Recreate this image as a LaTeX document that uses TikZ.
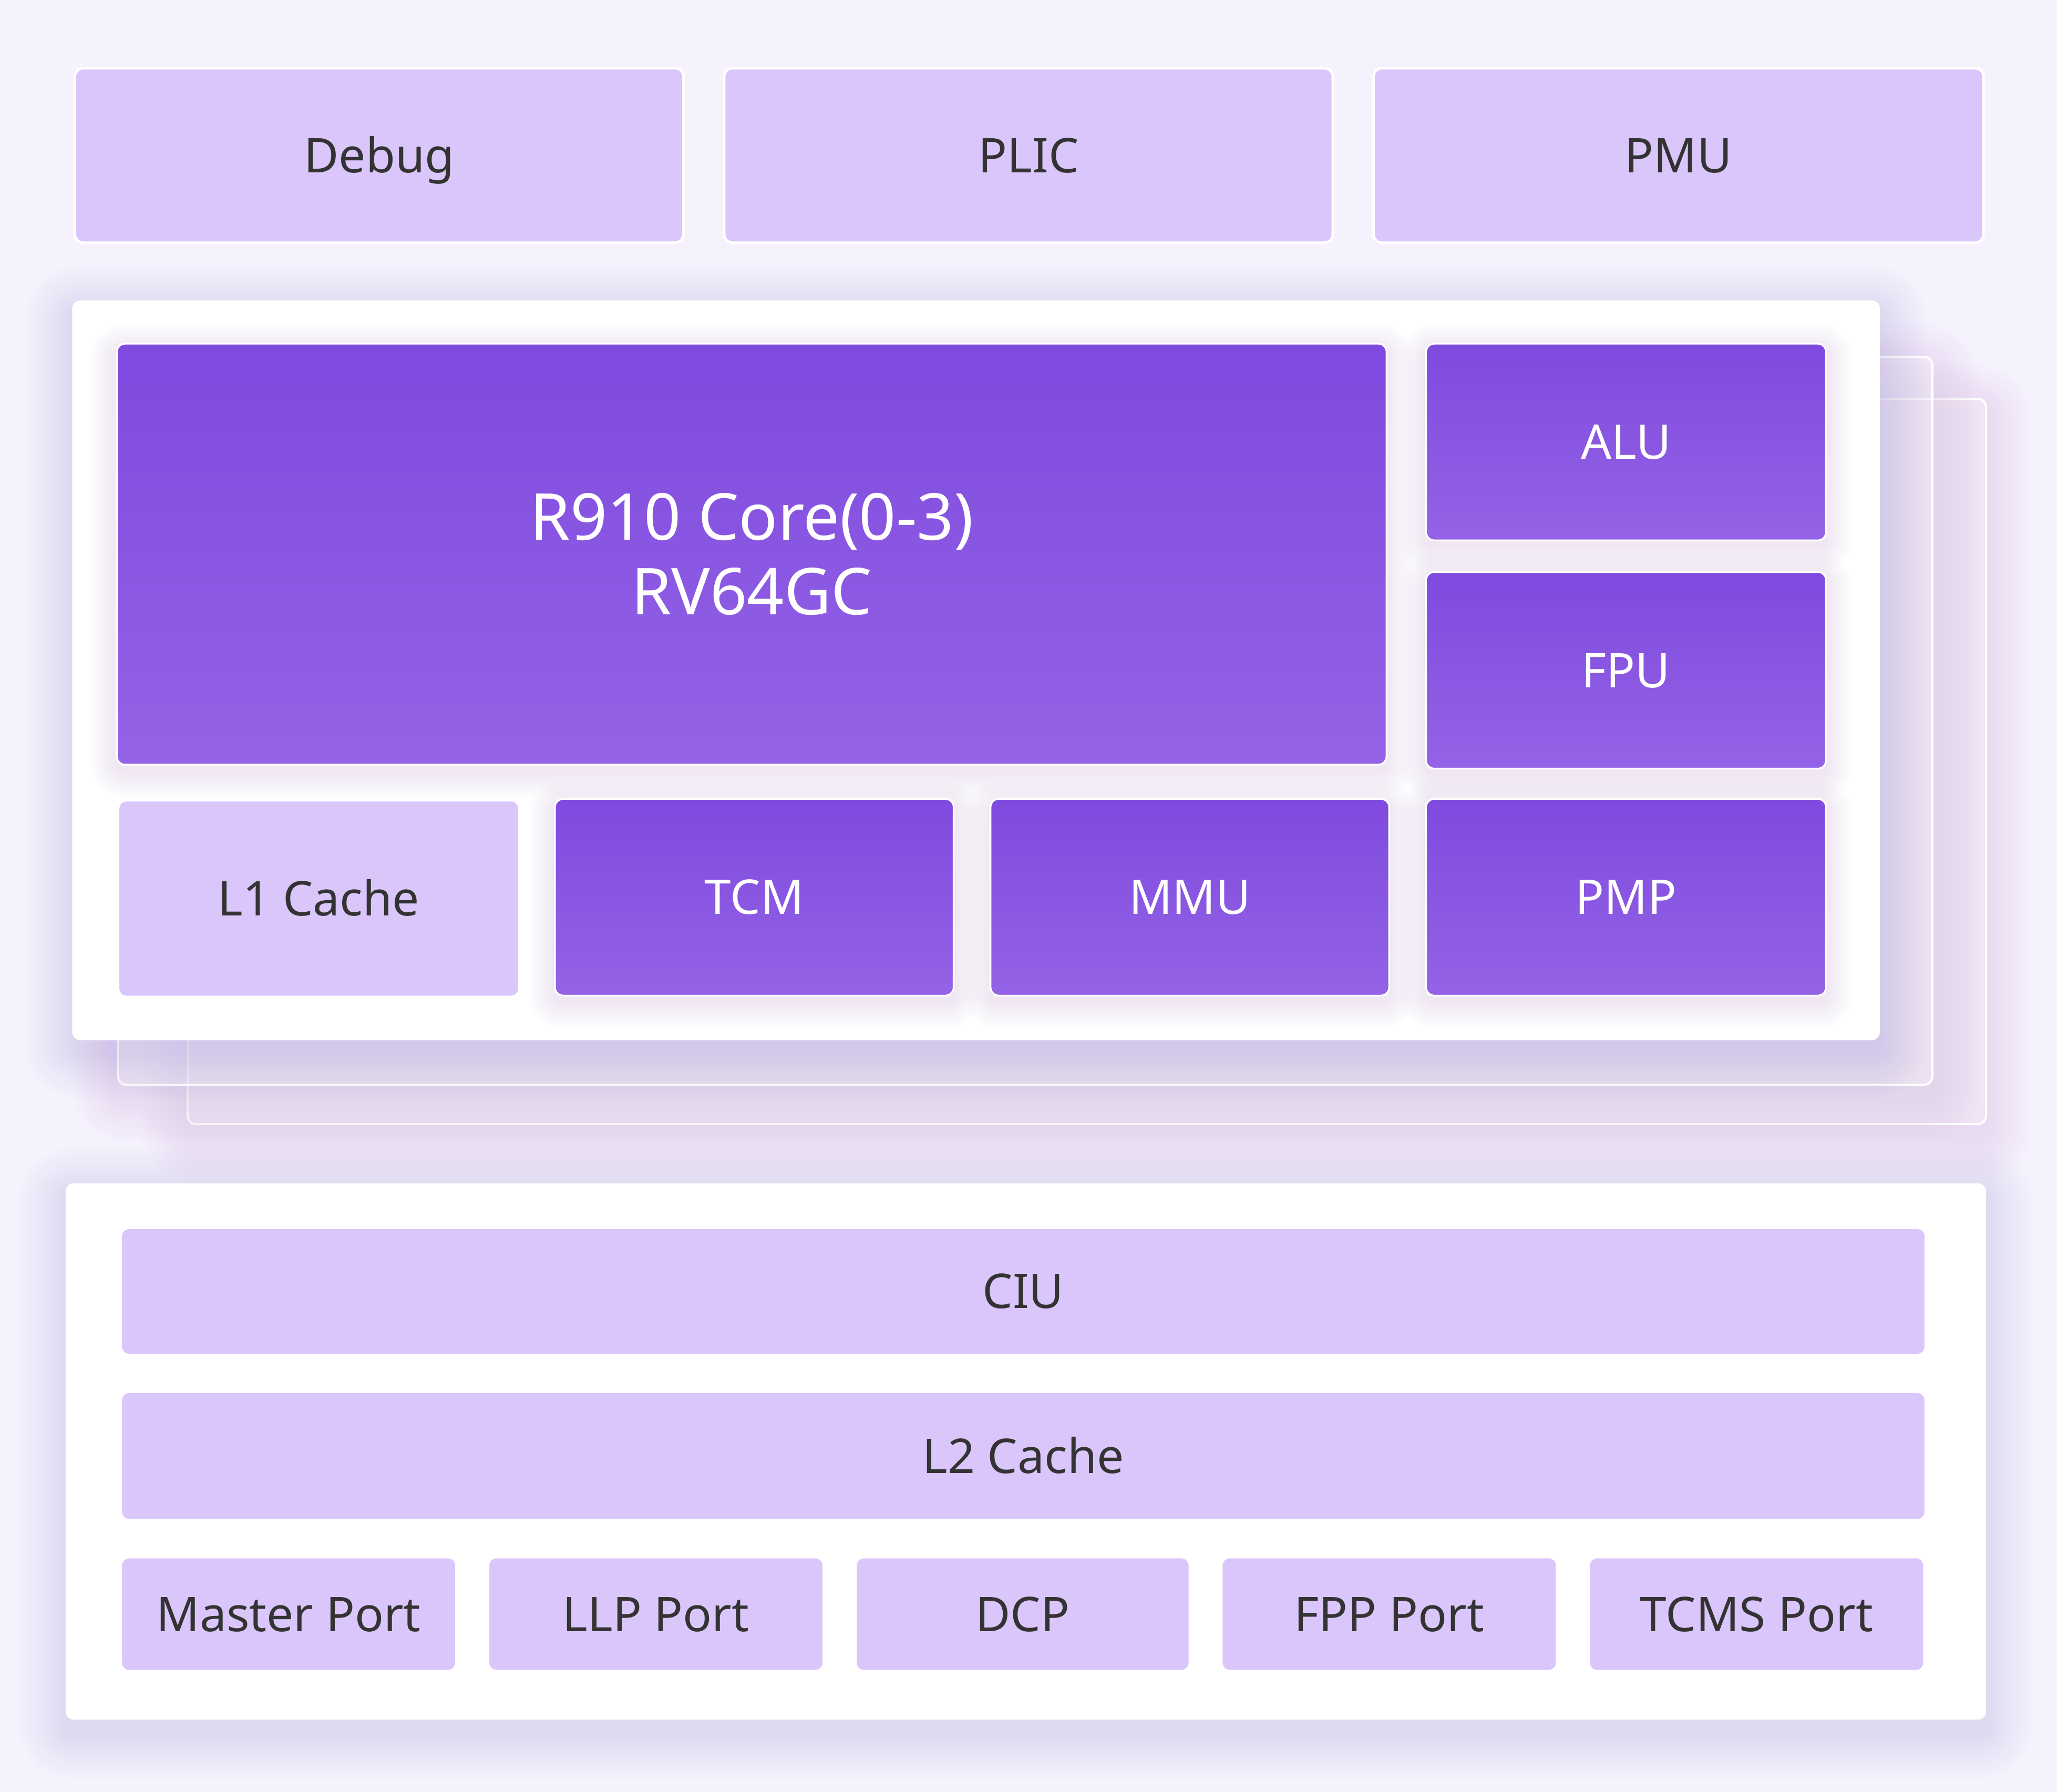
\documentclass[tikz,border=0pt]{standalone}
\usepackage{fontspec}
\setmainfont{Noto Sans}
\definecolor{bgc}{HTML}{F5F2FD}
\definecolor{lightp}{HTML}{DAC6FA}
\definecolor{dtop}{HTML}{7F4ADE}
\definecolor{dbot}{HTML}{9463E6}
\definecolor{txt}{HTML}{333333}
\definecolor{shc}{HTML}{7A5EEA}
\newcommand\softshadow[6]{% x1 y1 x2 y2 spread opacity
  \foreach \k in {1,...,12}{
    \fill[shc, opacity=#6, rounded corners={1.5pt+\k*#5*0.2496pt/12}]
      ({#1-\k*#5/12},{#2-\k*#5/12+#5/4}) rectangle ({#3+\k*#5/12},{#4+\k*#5/12+#5/4});
  }}
\newcommand\blk[7]{% name x1 y1 x2 y2 style text
  \node[#6, minimum width={(#4-#2)*0.2496pt}, minimum height={(#5-#3)*0.2496pt}]
    (#1) at ({(#2+#4)/2},{(#3+#5)/2}) {#7};}
\tikzset{
  basebox/.style={rounded corners=1.6pt, inner sep=0pt, outer sep=0pt,
    font=\fontsize{9.1}{11}\selectfont, text height=6.5pt, text depth=0pt},
  lightbox/.style={basebox, fill=lightp, draw=white, line width=0.5pt, text=txt},
  darkbox/.style={basebox, top color=dtop, bottom color=dbot, draw=white, line width=0.35pt, text=white},
  corebox/.style={rounded corners=1.6pt, inner sep=0pt, outer sep=0pt, top color=dtop, bottom color=dbot,
    draw=white, line width=0.35pt, text=white, align=center, font=\fontsize{12.3}{14.2}\selectfont},
  panel/.style={rounded corners=1.6pt, inner sep=0pt, outer sep=0pt, fill=white},
  layer/.style={rounded corners=1.6pt, inner sep=0pt, outer sep=0pt, fill=white, fill opacity=0.3, draw=white, line width=0.4pt},
}
\begin{document}
\begin{tikzpicture}[x=0.2496pt,y=-0.2496pt]
\useasboundingbox (0,0) rectangle (1568,1366);
\fill[bgc] (0,0) rectangle (1568,1366);

% top row
\blk{debug}{57}{52}{521}{185}{lightbox}{Debug}
\blk{plic}{552}{52}{1016}{185}{lightbox}{PLIC}
\blk{pmu}{1047}{52}{1512}{185}{lightbox}{PMU}

% stacked core layers
\softshadow{143}{304}{1514}{857}{36}{0.008}
\blk{layerc}{143}{304}{1514}{857}{layer}{}
\softshadow{90}{272}{1473}{827}{36}{0.008}
\blk{layerb}{90}{272}{1473}{827}{layer}{}
\softshadow{55}{229}{1433}{793}{36}{0.01}
\blk{corepanel}{55}{229}{1433}{793}{panel}{}

% inner shadows
\softshadow{89}{262}{1057}{583}{20}{0.007}
\softshadow{1087}{262}{1392}{412}{20}{0.007}
\softshadow{1087}{436}{1392}{586}{20}{0.007}
\softshadow{1087}{609}{1392}{759}{20}{0.007}
\softshadow{423}{609}{727}{759}{20}{0.007}
\softshadow{755}{609}{1059}{759}{20}{0.007}

\blk{core}{89}{262}{1057}{583}{corebox}{R910 Core(0-3)\\RV64GC}
\blk{alu}{1087}{262}{1392}{412}{darkbox}{ALU}
\blk{fpu}{1087}{436}{1392}{586}{darkbox}{FPU}
\blk{pmp}{1087}{609}{1392}{759}{darkbox}{PMP}
\blk{l1}{90}{610}{396}{760}{lightbox}{L1 Cache}
\blk{tcm}{423}{609}{727}{759}{darkbox}{TCM}
\blk{mmu}{755}{609}{1059}{759}{darkbox}{MMU}

% bottom panel
\softshadow{50}{902}{1514}{1311}{36}{0.01}
\blk{botpanel}{50}{902}{1514}{1311}{panel}{}
\blk{ciu}{92}{936}{1468}{1033}{lightbox}{CIU}
\blk{l2}{92}{1061}{1468}{1159}{lightbox}{L2 Cache}
\blk{master}{92}{1187}{348}{1274}{lightbox}{Master Port}
\blk{llp}{372}{1187}{628}{1274}{lightbox}{LLP Port}
\blk{dcp}{652}{1187}{907}{1274}{lightbox}{DCP}
\blk{fpp}{931}{1187}{1187}{1274}{lightbox}{FPP Port}
\blk{tcms}{1211}{1187}{1467}{1274}{lightbox}{TCMS Port}
\end{tikzpicture}
\end{document}
